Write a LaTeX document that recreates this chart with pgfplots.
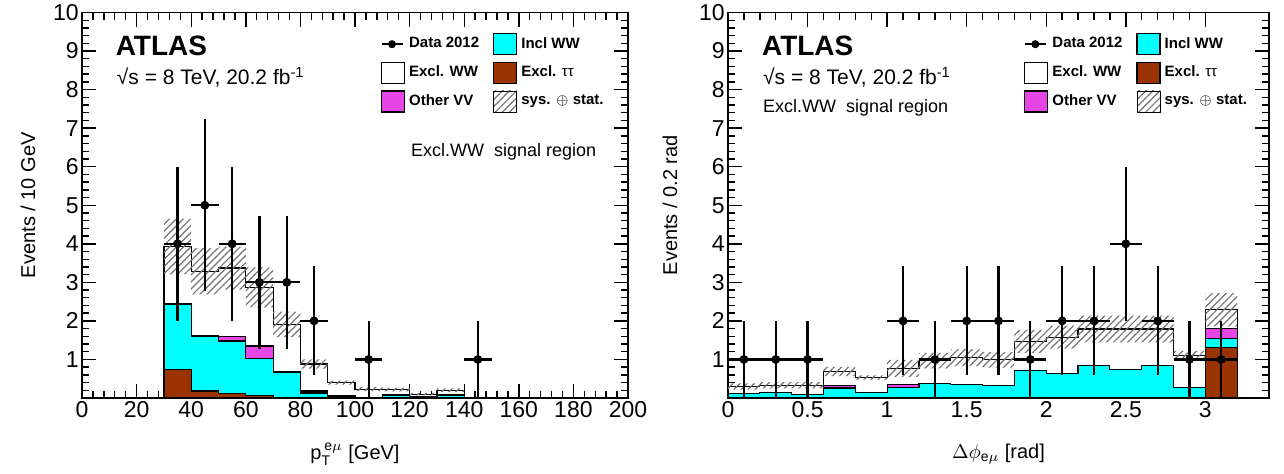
\documentclass[border=0pt]{standalone}
\usepackage{fontspec}
\setmainfont{Liberation Sans}
\usepackage{amsmath}
\usepackage{pgfplots}
\pgfplotsset{compat=1.18}
\usepackage{pgfplotstable}
\usepgfplotslibrary{fillbetween}
\usetikzlibrary{patterns,patterns.meta}

\definecolor{inclww}{RGB}{0,255,255}
\definecolor{exctt}{RGB}{153,51,0}
\definecolor{othvv}{RGB}{230,70,230}
\definecolor{hatchgray}{RGB}{115,115,115}

% left: pT(e mu), cumulative tops of the stack
\pgfplotstableread{
lo  tt    inc   vv    tot   unc
30  0.74  2.43  2.45  3.93  0.72
40  0.18  1.61  1.62  3.29  0.60
50  0.12  1.48  1.60  3.37  0.56
60  0.07  1.03  1.35  2.87  0.52
70  0.02  0.67  0.68  1.91  0.33
80  0.00  0.13  0.18  0.88  0.12
90  0.00  0.05  0.06  0.40  0.05
100 0.00  0.00  0.01  0.23  0.05
110 0.00  0.07  0.08  0.22  0.05
120 0.00  0.02  0.03  0.10  0.03
130 0.00  0.08  0.09  0.20  0.05
140 0.00  0.08  0.09  0.20  0.05
}\ptstack

\pgfplotstableread{
x   y  ex ey
35  4  5  2
45  5  5  2.236
55  4  5  2
65  3  5  1.732
75  3  5  1.732
85  2  5  1.414
105 1  5  1
145 1  5  1
}\ptdata

% right: delta phi(e mu)
\pgfplotstableread{
lo   tt    inc   vv    tot   unc
0.0  0.00  0.11  0.11  0.30  0.08
0.2  0.00  0.15  0.15  0.33  0.08
0.4  0.00  0.10  0.10  0.33  0.08
0.6  0.00  0.26  0.33  0.69  0.12
0.8  0.00  0.14  0.14  0.53  0.06
1.0  0.00  0.27  0.36  0.77  0.22
1.2  0.00  0.37  0.37  0.97  0.20
1.4  0.00  0.36  0.36  1.05  0.22
1.6  0.00  0.33  0.33  0.99  0.20
1.8  0.00  0.72  0.72  1.47  0.30
2.0  0.00  0.64  0.64  1.58  0.30
2.2  0.00  0.84  0.84  1.79  0.35
2.4  0.00  0.73  0.73  1.79  0.35
2.6  0.00  0.84  0.84  1.79  0.35
2.8  0.02  0.28  0.28  1.10  0.12
3.0  1.32  1.55  1.81  2.29  0.43
3.2  1.32  1.55  1.81  2.29  0.43
}\dpstack

\pgfplotstableread{
x    y  ex   ey
0.1  1  0.1  1
0.3  1  0.1  1
0.5  1  0.1  1
1.1  2  0.1  1.414
1.3  1  0.1  1
1.5  2  0.1  1.414
1.7  2  0.1  1.414
1.9  1  0.1  1
2.1  2  0.1  1.414
2.3  2  0.1  1.414
2.5  4  0.1  2
2.7  2  0.1  1.414
2.9  1  0.1  1
3.1  1  0.1  1
}\dpdata

\pgfplotsset{
  atlas/.style={
    scale only axis, height=192.75pt,
    ymin=0, ymax=10, ytick={0,1,...,10}, yticklabels={,1,2,3,4,5,6,7,8,9,10},
    minor x tick num=4, minor y tick num=4,
    tick align=inside, tick pos=both,
    xticklabel pos=lower, yticklabel pos=left,
    major tick length=7pt, minor tick length=3.5pt,
    axis line style={line width=0.9pt},
    every tick/.style={black, line width=0.7pt},
    tick label style={font=\fontsize{11.5}{13}\selectfont, inner sep=1.5pt},
    label style={font=\fontsize{11.5}{13}\selectfont},
    /pgf/number format/assume math mode=true,
    every axis x label/.style={at={(axis description cs:0.5,0)}, yshift=-28pt, anchor=center},
    fill between/on layer=main,
    legend columns=2,
    legend cell align=left,
    legend style={draw=none, fill=none, at={(0.535,0.958)}, anchor=north west,
      font=\fontsize{7.5}{9}\bfseries\selectfont, row sep=3.2pt,
      nodes={inner sep=2pt},
      /tikz/every even column/.append style={column sep=5pt}},
  },
  stk/.style={const plot mark left, draw=black, line width=0.6pt, forget plot},
  boxleg/.style={legend image code/.code={\draw[fill=#1, line width=0.6pt] (0pt,-5.25pt) rectangle (11.5pt,5.25pt);}},
  hatchstyle/.style={pattern={Lines[angle=45,distance=2.5pt,line width=0.6pt]}, pattern color=hatchgray},
}

\newcommand{\legendset}{%
  \addlegendimage{legend image code/.code={\draw[line width=1pt] (0pt,0pt)--(10.5pt,0pt); \fill (5.25pt,0pt) circle (1.8pt);}}
  \addlegendentry{Data 2012}
  \addlegendimage{boxleg=inclww}
  \addlegendentry{Incl WW}
  \addlegendimage{boxleg=white}
  \addlegendentry{Excl. WW}
  \addlegendimage{boxleg=exctt}
  \addlegendentry{Excl. {\mdseries ττ}}
  \addlegendimage{boxleg=othvv}
  \addlegendentry{Other VV}
  \addlegendimage{legend image code/.code={\fill[pattern={Lines[angle=45,distance=2.5pt,line width=0.6pt]}, pattern color=hatchgray] (0pt,-5.25pt) rectangle (11.5pt,5.25pt);}}
  \addlegendentry{sys. $\oplus$ stat.}
}

\begin{document}
\begin{tikzpicture}

% ---------------- left panel ----------------
\begin{axis}[atlas, width=273pt,
  xmin=0, xmax=200, xtick={0,20,...,200},
  every axis y label/.style={at={(axis description cs:0,0.5)}, xshift=-27pt, rotate=90, anchor=center},
  xlabel={p$_{\text{T}}^{\,\text{e}\mu}$ [GeV]},
  ylabel={Events / 10 GeV}]
\addplot[stk, fill=white] table[x=lo, y=tot] \ptstack \closedcycle;
\addplot[stk, fill=othvv] table[x=lo, y=vv] \ptstack \closedcycle;
\addplot[stk, fill=inclww] table[x=lo, y=inc] \ptstack \closedcycle;
\addplot[stk, fill=exctt] table[x=lo, y=tt] \ptstack \closedcycle;
\addplot[name path=upL, draw=none, const plot mark left, forget plot] table[x=lo, y expr=\thisrow{tot}+\thisrow{unc}] \ptstack;
\addplot[name path=dnL, draw=none, const plot mark left, forget plot] table[x=lo, y expr=\thisrow{tot}-\thisrow{unc}] \ptstack;
\addplot[hatchstyle, draw=none, forget plot] fill between[of=upL and dnL];
\addplot[black, only marks, mark=*, mark size=2pt, forget plot,
  error bars/.cd, x dir=both, x explicit, y dir=both, y explicit, error mark=none,
  error bar style={line width=1.1pt, black}]
  table[x=x, y=y, x error=ex, y error=ey] \ptdata;
\legendset
\node[anchor=west, font=\fontsize{14}{16}\bfseries\selectfont] at (rel axis cs:0.049,0.913) {ATLAS};
\node[anchor=west, font=\fontsize{10.5}{12}\selectfont] at (rel axis cs:0.051,0.832) {√s = 8 TeV, 20.2 fb\textsuperscript{-1}};
\node[anchor=west, font=\fontsize{9}{11}\selectfont] at (rel axis cs:0.590,0.638) {Excl.WW\ \ signal region};
\end{axis}

% ---------------- right panel ----------------
\begin{axis}[atlas, width=270.5pt, at={(323pt,0pt)},
  xmin=0, xmax=3.4, xtick={0,0.5,1,1.5,2,2.5,3},
  every axis y label/.style={at={(axis description cs:0,0.5)}, xshift=-29pt, rotate=90, anchor=center},
  xlabel={$\Delta\phi_{\text{e}\mu}$ [rad]},
  ylabel={Events / 0.2 rad}]
\addplot[stk, fill=white] table[x=lo, y=tot] \dpstack \closedcycle;
\addplot[stk, fill=othvv] table[x=lo, y=vv] \dpstack \closedcycle;
\addplot[stk, fill=inclww] table[x=lo, y=inc] \dpstack \closedcycle;
\addplot[stk, fill=exctt] table[x=lo, y=tt] \dpstack \closedcycle;
\addplot[name path=upR, draw=none, const plot mark left, forget plot] table[x=lo, y expr=\thisrow{tot}+\thisrow{unc}] \dpstack;
\addplot[name path=dnR, draw=none, const plot mark left, forget plot] table[x=lo, y expr=\thisrow{tot}-\thisrow{unc}] \dpstack;
\addplot[hatchstyle, draw=none, forget plot] fill between[of=upR and dnR];
\addplot[black, only marks, mark=*, mark size=2pt, forget plot,
  error bars/.cd, x dir=both, x explicit, y dir=both, y explicit, error mark=none,
  error bar style={line width=1.1pt, black}]
  table[x=x, y=y, x error=ex, y error=ey] \dpdata;
\legendset
\node[anchor=west, font=\fontsize{14}{16}\bfseries\selectfont] at (rel axis cs:0.050,0.913) {ATLAS};
\node[anchor=west, font=\fontsize{10.5}{12}\selectfont] at (rel axis cs:0.052,0.832) {√s = 8 TeV, 20.2 fb\textsuperscript{-1}};
\node[anchor=west, font=\fontsize{9}{11}\selectfont] at (rel axis cs:0.052,0.752) {Excl.WW\ \ signal region};
\end{axis}

\pgfresetboundingbox
\useasboundingbox (-41pt,-37.5pt) rectangle (601pt,199pt);
\end{tikzpicture}
\end{document}
